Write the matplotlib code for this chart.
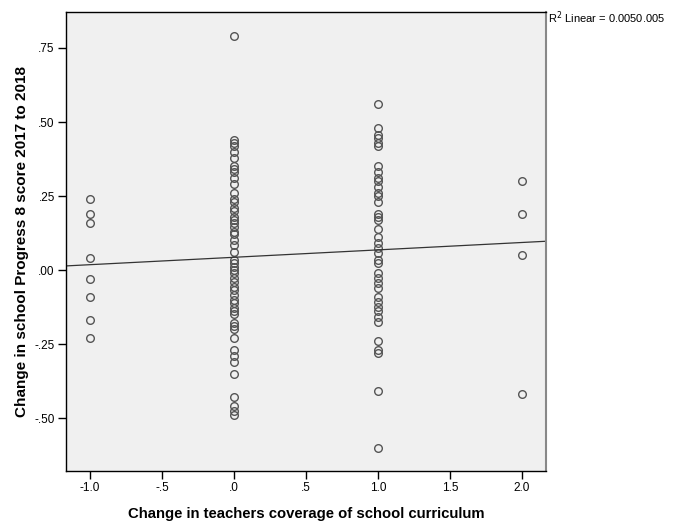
import matplotlib
matplotlib.use("Agg")
import matplotlib.pyplot as plt
import numpy as np

plt.rcParams['font.family'] = ['Liberation Sans', 'DejaVu Sans']

# change in teachers coverage (x groups) and change in Progress 8 score
y_minus1 = [0.24, 0.19, 0.16, 0.04, -0.03, -0.09, -0.17, -0.23]
y_zero = [0.79, 0.44, 0.43, 0.42, 0.40, 0.38, 0.35, 0.34, 0.33, 0.31, 0.29,
          0.26, 0.24, 0.23, 0.21, 0.20, 0.18, 0.17, 0.16, 0.145, 0.13, 0.12,
          0.10, 0.085, 0.06, 0.035, 0.025, 0.01, 0.0, -0.01, -0.027, -0.04,
          -0.057, -0.068, -0.085, -0.10, -0.11, -0.128, -0.14, -0.15, -0.18,
          -0.19, -0.20, -0.23, -0.27, -0.29, -0.31, -0.35, -0.43, -0.46,
          -0.475, -0.49]
y_one = [0.56, 0.48, 0.455, 0.445, 0.43, 0.42, 0.35, 0.33, 0.31, 0.30, 0.28,
         0.26, 0.25, 0.23, 0.19, 0.18, 0.17, 0.14, 0.11, 0.09, 0.075, 0.057,
         0.034, 0.024, -0.01, -0.027, -0.044, -0.06, -0.09, -0.108, -0.125,
         -0.14, -0.16, -0.175, -0.24, -0.27, -0.28, -0.41, -0.60]
y_two = [0.30, 0.19, 0.05, -0.42]

# fit line
intercept = 0.043
slope = 0.025
r2_text = 'R$^2$ Linear = 0.0050.005'

xticks = [-1.0, -0.5, 0.0, 0.5, 1.0, 1.5, 2.0]
xtick_labels = ["-1.0", "-.5", ".0", ".5", "1.0", "1.5", "2.0"]
yticks = [0.75, 0.50, 0.25, 0.0, -0.25, -0.50]
ytick_labels = [".75", ".50", ".25", ".00", "-.25", "-.50"]

fig = plt.figure(figsize=(6.78, 5.24), dpi=100)
ax = fig.add_axes([0.0973, 0.1011, 0.708, 0.876])
ax.set_facecolor('#f0f0f0')

groups = [(-1.0, y_minus1), (0.0, y_zero), (1.0, y_one), (2.0, y_two)]
for xv, ys in groups:
    ax.plot([xv] * len(ys), ys, linestyle='none', marker='o', markersize=5.5,
            markerfacecolor='none', markeredgecolor='#555555', markeredgewidth=1.0)

xlim = (-1.1667, 2.1667)
xs = np.array(xlim)
ax.plot(xs, intercept + slope * xs, color='#333333', linewidth=0.9)

ax.set_xlim(*xlim)
ax.set_ylim(-0.679, 0.8716)
ax.set_xticks(xticks)
ax.set_xticklabels(xtick_labels)
ax.set_yticks(yticks)
ax.set_yticklabels(ytick_labels)
ax.tick_params(direction='out', length=6, width=1, labelsize=8.5, colors='black', pad=2)

for side in ['left', 'bottom', 'top']:
    ax.spines[side].set_color('black')
    ax.spines[side].set_linewidth(1.0)
ax.spines['right'].set_color('#888888')
ax.spines['right'].set_linewidth(1.5)

ax.set_xlabel('Change in teachers coverage of school curriculum',
              fontsize=10.7, fontweight='bold', labelpad=9)
ax.set_ylabel('Change in school Progress 8 score 2017 to 2018',
              fontsize=11, fontweight='bold', labelpad=4)

# SPSS fit label, printed twice over itself in the original
fig.text(548 / 678, 1 - 18 / 524, r2_text, fontsize=8, va='center', ha='left')

fig.savefig('out.png', dpi=100)
